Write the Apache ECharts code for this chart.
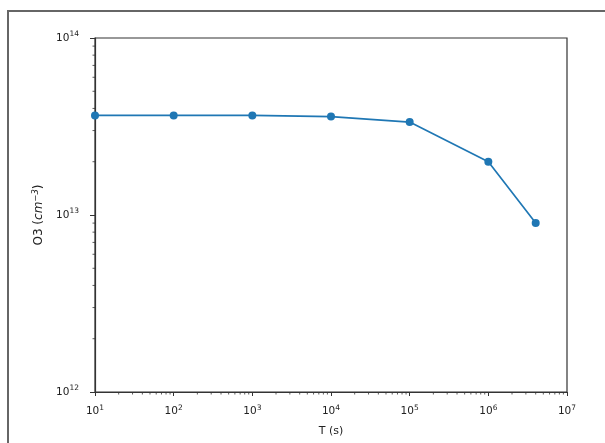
<!DOCTYPE html>
<html>
<head>
<meta charset="utf-8">
<script src="https://cdn.jsdelivr.net/npm/echarts@6/dist/echarts.min.js"></script>
<style>
html,body{margin:0;padding:0;background:#fff;}
#wrap{position:relative;width:605px;height:443px;overflow:hidden;}
#frame{position:absolute;left:7px;top:10px;width:620px;height:460px;border-left:2px solid #666;border-top:2px solid #666;box-sizing:border-box;}
#chart{position:absolute;left:0;top:0;width:605px;height:443px;}
</style>
</head>
<body>
<div id="wrap"><div id="frame"></div><div id="chart"></div></div>
<script>
// Data
const timeValues = [10, 100, 1000, 10000, 100000, 1000000, 4000000];
const o3Values = [3.65e13, 3.65e13, 3.65e13, 3.6e13, 3.35e13, 2.0e13, 9.0e12];
// Tick label exponents
const xTickExps = [1, 2, 3, 4, 5, 6, 7];
const yTickExps = [12, 13, 14];
const minorMults = [2, 3, 4, 5, 6, 7, 8, 9];

const xMin = Math.pow(10, xTickExps[0]), xMax = Math.pow(10, xTickExps[xTickExps.length - 1]);
const yMin = Math.pow(10, yTickExps[0]), yMax = Math.pow(10, yTickExps[yTickExps.length - 1]);

const xMinor = [];
for (let i = 0; i < xTickExps.length - 1; i++) minorMults.forEach(m => xMinor.push([m * Math.pow(10, xTickExps[i]), yMin]));
const yMinor = [];
for (let i = 0; i < yTickExps.length - 1; i++) minorMults.forEach(m => yMinor.push([xMin, m * Math.pow(10, yTickExps[i])]));

const fam = 'DejaVu Sans';
const tickRich = {
  b: {fontSize: 10.5, fontFamily: fam, color: '#222', lineHeight: 14},
  s: {fontSize: 7.5, fontFamily: fam, color: '#222', padding: [0, 0, 7, 0]}
};
function powLabel(v) {
  const e = Math.round(Math.log10(v));
  return '{b|10}{s|' + e + '}';
}

const chart = echarts.init(document.getElementById('chart'), null, {renderer: 'canvas'});
const axisColor = '#333';
chart.setOption({
  animation: false,
  grid: {left: 95, top: 38, right: 38, bottom: 51, show: true, borderColor: axisColor, borderWidth: 1.2, backgroundColor: 'transparent'},
  xAxis: {
    type: 'log', logBase: 10, min: xMin, max: xMax,
    name: 'T (s)', nameLocation: 'middle', nameGap: 34,
    nameTextStyle: {fontFamily: fam, fontSize: 11, color: '#222'},
    axisLine: {show: true, onZero: false, lineStyle: {color: axisColor, width: 1.2}},
    axisTick: {show: true, length: 4, lineStyle: {color: axisColor, width: 1}},
    minorTick: {show: false},
    splitLine: {show: false},
    axisLabel: {margin: 12, formatter: powLabel, rich: tickRich}
  },
  yAxis: {
    type: 'log', logBase: 10, min: yMin, max: yMax,
    name: '{n|O3 (}{i|cm}{sp|−3}{n|)}', nameLocation: 'middle', nameGap: 45, nameRotate: 90,
    nameTextStyle: {
      rich: {
        n: {fontFamily: fam, fontSize: 12, color: '#222', lineHeight: 15},
        i: {fontFamily: fam, fontSize: 12, fontStyle: 'italic', color: '#222', lineHeight: 15},
        sp: {fontFamily: fam, fontSize: 8.5, fontStyle: 'italic', color: '#222', padding: [0, 0, 7, 0]}
      }
    },
    axisLine: {show: true, onZero: false, lineStyle: {color: axisColor, width: 1.2}},
    axisTick: {show: true, length: 5, lineStyle: {color: axisColor, width: 1}},
    minorTick: {show: false},
    splitLine: {show: false},
    axisLabel: {margin: 16, formatter: powLabel, rich: tickRich}
  },
  series: [
    {
      type: 'line',
      data: timeValues.map((t, i) => [t, o3Values[i]]),
      symbol: 'circle', symbolSize: 8,
      itemStyle: {color: '#1f77b4'},
      lineStyle: {color: '#1f77b4', width: 1.7},
      clip: false, z: 5
    },
    {
      type: 'custom', silent: true, clip: false, z: 6,
      data: xMinor,
      renderItem: function (params, api) {
        const p = api.coord([api.value(0), api.value(1)]);
        return {type: 'line', shape: {x1: p[0], y1: p[1], x2: p[0], y2: p[1] + 2.5}, style: {stroke: axisColor, lineWidth: 0.8}};
      }
    },
    {
      type: 'custom', silent: true, clip: false, z: 6,
      data: yMinor,
      renderItem: function (params, api) {
        const p = api.coord([api.value(0), api.value(1)]);
        return {type: 'line', shape: {x1: p[0], y1: p[1], x2: p[0] - 2.5, y2: p[1]}, style: {stroke: axisColor, lineWidth: 0.8}};
      }
    }
  ]
});
</script>
</body>
</html>
